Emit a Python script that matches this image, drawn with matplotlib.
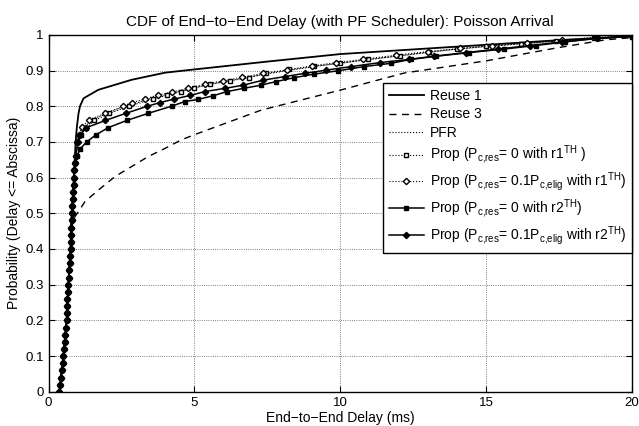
import numpy as np
import matplotlib
matplotlib.use('Agg')
import matplotlib.pyplot as plt

plt.rcParams['font.family'] = ['Liberation Sans', 'DejaVu Sans']
plt.rcParams['mathtext.default'] = 'regular'
plt.rcParams['mathtext.fontset'] = 'custom'
plt.rcParams['mathtext.rm'] = 'Liberation Sans'

# steep part shared by the Prop / PFR curves (delay ms, probability)
steep_x = [0.37, 0.40, 0.43, 0.46, 0.49, 0.51, 0.53, 0.55, 0.57, 0.60, 0.62, 0.63,
           0.64, 0.65, 0.67, 0.68, 0.70, 0.71, 0.73, 0.74, 0.76, 0.77, 0.77, 0.78,
           0.79, 0.80, 0.82, 0.83, 0.85, 0.86, 0.88, 0.89, 0.91, 0.93]
steep_y = [0.00, 0.02, 0.04, 0.06, 0.08, 0.10, 0.12, 0.14, 0.16, 0.18, 0.20, 0.22,
           0.24, 0.26, 0.28, 0.30, 0.32, 0.34, 0.36, 0.38, 0.40, 0.42, 0.44, 0.46,
           0.48, 0.50, 0.52, 0.54, 0.56, 0.58, 0.60, 0.62, 0.64, 0.66]

reuse1_x = [0.37, 0.51, 0.62, 0.68, 0.75, 0.80, 0.87, 0.93, 0.97, 1.03, 1.08, 1.20,
            1.71, 2.85, 4.0, 5.0, 7.5, 10.0, 12.3, 15.0, 17.5, 20.0]
reuse1_y = [0.00, 0.10, 0.20, 0.30, 0.40, 0.50, 0.60, 0.70, 0.74, 0.78, 0.80, 0.822,
            0.846, 0.874, 0.894, 0.903, 0.925, 0.946, 0.958, 0.972, 0.985, 0.996]

reuse3_x = [0.37, 0.51, 0.62, 0.68, 0.76, 0.79, 0.90, 1.03, 1.25, 1.71, 2.28, 2.85,
            3.42, 4.0, 4.56, 5.13, 7.29, 10.0, 12.2, 15.0, 17.4, 19.1, 20.0]
reuse3_y = [0.00, 0.10, 0.20, 0.30, 0.40, 0.46, 0.49, 0.505, 0.533, 0.565, 0.603, 0.631,
            0.659, 0.682, 0.706, 0.724, 0.789, 0.845, 0.893, 0.927, 0.963, 0.986, 0.992]

pfr_x = [0.98, 1.2, 1.48, 2.0, 2.65, 3.45, 4.4, 5.45, 6.75, 8.2, 9.9, 11.9, 14.0, 17.0, 20.0]
pfr_y = [0.70, 0.74, 0.76, 0.78, 0.80, 0.82, 0.84, 0.86, 0.88, 0.90, 0.92, 0.94, 0.96, 0.98, 0.997]

r1sq_x = [0.98, 1.10, 1.28, 1.57, 2.09, 2.77, 3.57, 4.05, 4.54, 4.98, 5.53, 6.21, 6.87,
          7.46, 8.26, 9.1, 10.0, 10.97, 12.05, 13.06, 14.0, 15.0, 16.2, 17.4, 18.7, 20.0]
r1sq_y = [0.70, 0.72, 0.738, 0.76, 0.78, 0.80, 0.82, 0.83, 0.841, 0.851, 0.861, 0.871, 0.88,
          0.892, 0.903, 0.912, 0.92, 0.931, 0.941, 0.952, 0.96, 0.968, 0.975, 0.982, 0.99, 0.997]

r1di_x = [0.97, 1.05, 1.14, 1.39, 1.94, 2.57, 2.85, 3.31, 3.74, 4.25, 4.77, 5.36, 5.99,
          6.62, 7.36, 8.19, 9.03, 9.86, 10.77, 11.91, 13.0, 14.1, 15.2, 16.4, 17.6, 18.8, 20.0]
r1di_y = [0.70, 0.72, 0.741, 0.762, 0.78, 0.80, 0.81, 0.82, 0.831, 0.84, 0.85, 0.862, 0.871,
          0.881, 0.892, 0.901, 0.913, 0.922, 0.931, 0.943, 0.953, 0.962, 0.97, 0.978, 0.986,
          0.993, 0.998]

r2sq_x = [0.98, 1.08, 1.31, 1.63, 2.05, 2.68, 3.42, 4.22, 4.67, 5.13, 5.63, 6.12, 6.69,
          7.29, 7.8, 8.43, 9.11, 9.91, 10.82, 11.73, 12.41, 13.3, 14.4, 15.6, 16.7, 17.7,
          18.8, 20.0]
r2sq_y = [0.66, 0.68, 0.70, 0.72, 0.74, 0.76, 0.78, 0.80, 0.813, 0.819, 0.829, 0.841, 0.85,
          0.859, 0.869, 0.88, 0.89, 0.899, 0.911, 0.92, 0.931, 0.94, 0.95, 0.96, 0.97, 0.98,
          0.99, 0.995]

r2di_x = [1.02, 1.08, 1.30, 1.95, 2.65, 3.39, 3.82, 4.31, 4.85, 5.36, 6.05, 6.68, 7.36,
          8.1, 8.78, 9.52, 10.38, 11.35, 12.37, 13.2, 14.3, 15.4, 16.5, 17.6, 18.8, 20.0]
r2di_y = [0.70, 0.72, 0.74, 0.76, 0.78, 0.80, 0.81, 0.82, 0.83, 0.841, 0.85, 0.859, 0.873,
          0.883, 0.892, 0.901, 0.911, 0.922, 0.931, 0.94, 0.95, 0.96, 0.97, 0.98, 0.99, 0.996]

xticks = [0, 5, 10, 15, 20]
yticks = [0, 0.1, 0.2, 0.3, 0.4, 0.5, 0.6, 0.7, 0.8, 0.9, 1]
yticklabels = ['0', '0.1', '0.2', '0.3', '0.4', '0.5', '0.6', '0.7', '0.8', '0.9', '1']

fig = plt.figure(figsize=(6.39, 4.26), dpi=100)
ax = fig.add_axes([0.0759, 0.0803, 0.913, 0.838])

ax.plot(reuse1_x, reuse1_y, '-', color='k', lw=1.3, label='Reuse 1')
ax.plot(reuse3_x, reuse3_y, '--', color='k', lw=1.0, dashes=(5, 4), label='Reuse 3')
ax.plot(steep_x + pfr_x, steep_y + pfr_y, ':', color='k', lw=0.8, label='PFR')
ax.plot(steep_x + r1sq_x, steep_y + r1sq_y, ':', color='k', lw=0.8, marker='s',
        ms=3.2, mfc='white', mec='k', mew=1.0,
        label='Prop (P$_{c{,}res}$= 0 with r1$^{TH}$ )')
ax.plot(steep_x + r1di_x, steep_y + r1di_y, ':', color='k', lw=0.8, marker='D',
        ms=3.2, mfc='white', mec='k', mew=1.0,
        label='Prop (P$_{c{,}res}$= 0.1P$_{c{,}elig}$ with r1$^{TH}$)')
ax.plot(steep_x + r2sq_x, steep_y + r2sq_y, '-', color='k', lw=1.1, marker='s',
        ms=3.0, mfc='k', mec='k',
        label='Prop (P$_{c{,}res}$= 0 with r2$^{TH}$)')
ax.plot(steep_x + r2di_x, steep_y + r2di_y, '-', color='k', lw=1.1, marker='D',
        ms=3.2, mfc='k', mec='k',
        label='Prop (P$_{c{,}res}$= 0.1P$_{c{,}elig}$ with r2$^{TH}$)')

ax.set_xlim(0, 20)
ax.set_ylim(0, 1)
ax.set_xticks(xticks)
ax.set_yticks(yticks)
ax.set_yticklabels(yticklabels)
ax.tick_params(direction='in', top=True, right=True, labelsize=9.5, length=4, width=0.8)
ax.grid(True, linestyle=':', color='#555555', lw=0.6)
for s in ax.spines.values():
    s.set_linewidth(1.0)

ax.set_title('CDF of End\u2212to\u2212End Delay (with PF Scheduler): Poisson Arrival',
             fontsize=11, pad=6)
ax.set_xlabel('End\u2212to\u2212End Delay (ms)', fontsize=10, labelpad=2)
ax.set_ylabel('Probability (Delay <= Abscissa)', fontsize=10, labelpad=3)

leg = ax.legend(loc='upper right', bbox_to_anchor=(1.0, 0.864), fontsize=10,
                frameon=True, fancybox=False, edgecolor='k', framealpha=1,
                handlelength=2.56, borderaxespad=0, labelspacing=0.3,
                handletextpad=0.39, borderpad=0.43)
leg.get_frame().set_linewidth(1.0)

fig.savefig('out.png', dpi=100)
